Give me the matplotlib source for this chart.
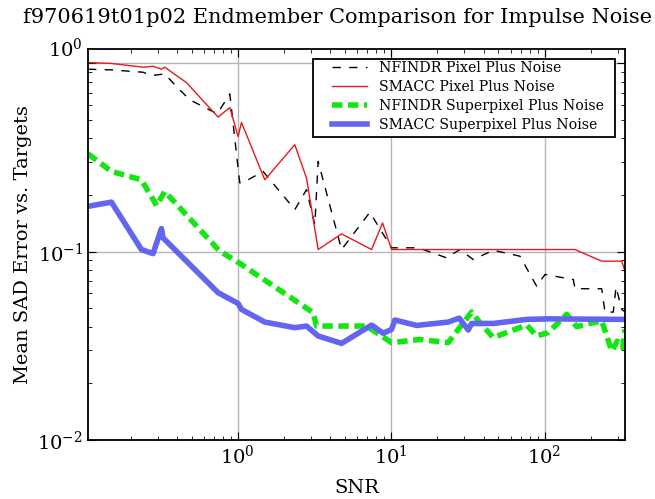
import matplotlib
matplotlib.use("Agg")
import matplotlib.pyplot as plt
from matplotlib.patches import Rectangle
from matplotlib.transforms import ScaledTranslation

plt.rcParams["font.family"] = ["DejaVu Serif"]
plt.rcParams["mathtext.fontset"] = "dejavuserif"
plt.rcParams["lines.scale_dashes"] = False

# NFINDR, pixel plus noise
nf_pix_snr = [0.1056, 0.150, 0.2411, 0.2735, 0.334, 0.3983, 0.4863, 0.735, 0.887, 1.03, 1.167,
              1.462, 2.354, 2.806, 3.179, 3.341, 4.747, 7.262, 10.06, 15.01, 22.98, 28.06, 34.26,
              46.28, 69.1, 88.83, 100.6, 153.9, 157.9, 235.8, 247.7, 280.6, 292.3, 318.4, 334.5]
nf_pix_sad = [0.932, 0.924, 0.898, 0.862, 0.880, 0.754, 0.641, 0.54, 0.689, 0.232, 0.241,
              0.267, 0.1674, 0.2136, 0.1393, 0.302, 0.1027, 0.162, 0.1049, 0.1049, 0.0928, 0.1027, 0.0909,
              0.1018, 0.0947, 0.0656, 0.0757, 0.0712, 0.0636, 0.0636, 0.0478, 0.0478, 0.065, 0.0494, 0.048]

# SMACC, pixel plus noise
sm_pix_snr = [0.1056, 0.150, 0.2411, 0.2802, 0.3179, 0.334, 0.4627, 0.744, 0.887, 1.005, 1.057,
              1.50, 2.354, 2.806, 3.341, 4.747, 7.45, 8.788, 10.06, 157.9, 235.8, 318.4, 334.5]
sm_pix_sad = [1.01, 1.0, 0.955, 0.966, 0.932, 0.955, 0.791, 0.519, 0.583, 0.409, 0.486,
              0.241, 0.370, 0.246, 0.1027, 0.1244, 0.1027, 0.1422, 0.1027, 0.1027, 0.0891, 0.0891, 0.0788]

# NFINDR, superpixel plus noise
nf_sup_snr = [0.1056, 0.150, 0.2353, 0.296, 0.334, 0.763, 0.981, 3.099, 3.262, 6.911, 10.06,
              15.39, 23.54, 33.45, 37.91, 46.28, 76.42, 88.83, 105.7, 139.4, 162.0, 235.8, 274.0,
              298.0, 323.2, 334.5]
nf_sup_sad = [0.331, 0.267, 0.241, 0.1757, 0.209, 0.1006, 0.0891, 0.0475, 0.0403, 0.0403, 0.0329,
              0.0342, 0.0329, 0.0478, 0.042, 0.035, 0.0408, 0.0357, 0.0372, 0.0465, 0.040, 0.043, 0.0297,
              0.0335, 0.031, 0.0387]

# SMACC, superpixel plus noise
sm_sup_snr = [0.1056, 0.150, 0.2353, 0.2802, 0.3179, 0.3256, 0.744, 1.005, 1.057, 1.50, 2.354,
              2.806, 3.341, 4.747, 7.45, 8.868, 10.06, 10.57, 14.65, 23.54, 27.77, 31.79, 33.45,
              46.28, 76.42, 105.7, 334.5]
sm_sup_sad = [0.1742, 0.1834, 0.1027, 0.0977, 0.1327, 0.1185, 0.0606, 0.0531, 0.0494, 0.0423, 0.0395,
              0.0403, 0.0357, 0.0326, 0.0408, 0.0369, 0.0387, 0.0434, 0.0406, 0.0423, 0.0444, 0.0384, 0.0416,
              0.0416, 0.0437, 0.044, 0.0437]

fig = plt.figure(figsize=(6.55, 4.99), dpi=100)
ax = fig.add_axes([0.1344, 0.1182, 0.8198, 0.7836])

ax.plot(nf_pix_snr, nf_pix_sad, "k--", lw=1.0, dashes=(6, 6), label="NFINDR Pixel Plus Noise")
ax.plot(sm_pix_snr, sm_pix_sad, "-", color="#e8191b", lw=1.0, label="SMACC Pixel Plus Noise")
ax.plot(nf_sup_snr, nf_sup_sad, "--", color="#14e614", lw=4, dashes=(7.5, 4),
        label="NFINDR Superpixel Plus Noise")
ax.plot(sm_sup_snr, sm_sup_sad, "-", color="#6464f2", lw=4, label="SMACC Superpixel Plus Noise")

ax.set_xscale("log")
ax.set_yscale("log")
ax.set_xlim(0.1056, 334.5)
ax.set_ylim(0.01, 1.193)
ax.set_yticks([0.01, 0.1, 1.0])

ax.grid(True, which="major", color="#b4b4b4", lw=1.0, ls="-")
ax.tick_params(which="both", direction="in", top=True, right=True, labelsize=14)
ax.tick_params(which="major", length=6)
ax.tick_params(which="minor", length=3)
for s in ax.spines.values():
    s.set_linewidth(1.3)

ax.set_title("f970619t01p02 Endmember Comparison for Impulse Noise", fontsize=15, pad=19, x=0.464)
ax.set_xlabel("SNR", fontsize=14, labelpad=8)
ax.set_ylabel("Mean SAD Error vs. Targets", fontsize=14)

# legend without its own frame; the box is drawn below with wider side padding
leg = ax.legend(loc="upper right", bbox_to_anchor=(0.964, 0.975), borderaxespad=0,
                fontsize=10.2, frameon=False, borderpad=0.15, labelspacing=0.35,
                handlelength=2.5)

fig.canvas.draw()
bb = leg.get_window_extent().transformed(ax.transAxes.inverted())
px_x = 1 / (ax.bbox.width)
px_y = 1 / (ax.bbox.height)
pad_l, pad_r, pad_t, pad_b = 17, 9, 0, 3
frame = Rectangle((bb.x0 - pad_l * px_x, bb.y0 - pad_b * px_y),
                  bb.width + (pad_l + pad_r) * px_x, bb.height + (pad_t + pad_b) * px_y,
                  transform=ax.transAxes, facecolor="white", edgecolor="black",
                  lw=1.3, zorder=4.9, clip_on=False)
ax.add_patch(frame)

# the top y label sits level with the top spine in the original
for tick in ax.yaxis.get_major_ticks():
    if tick.get_loc() is not None and abs(tick.get_loc() - 1.0) < 1e-9:
        tick.label1.set_transform(tick.label1.get_transform() +
                                  ScaledTranslation(0, 0.16, fig.dpi_scale_trans))

fig.savefig("out.png")
